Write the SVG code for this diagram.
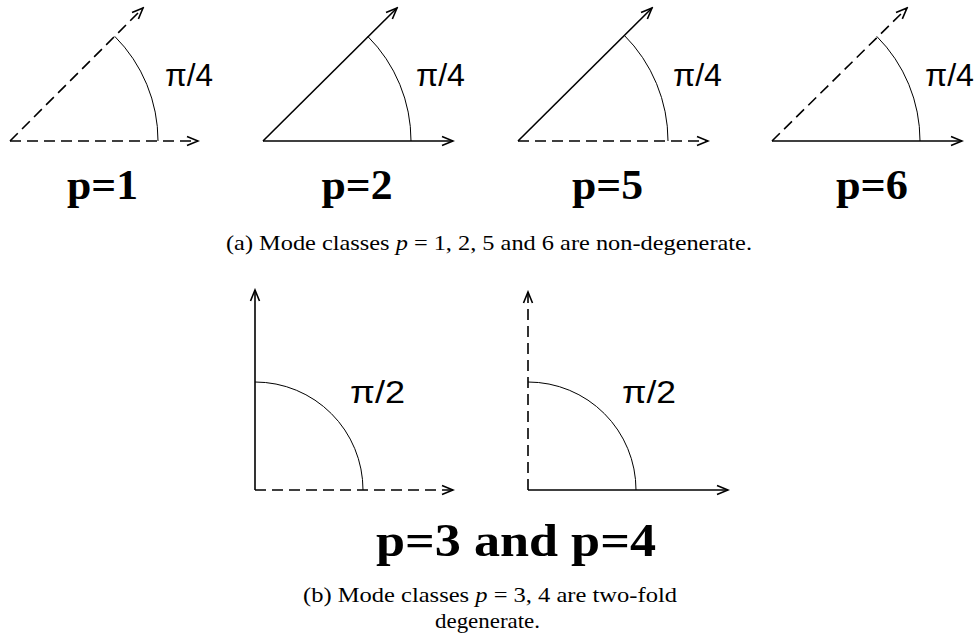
<svg xmlns="http://www.w3.org/2000/svg" width="977" height="641" viewBox="0 0 977 641">
<style>
.ax{fill:none;stroke:#000;stroke-width:1.6}
.ds{stroke-dasharray:11 6}
.arc{fill:none;stroke:#000;stroke-width:1}
.ang{font-family:"Liberation Sans",Arial,sans-serif;font-size:32px;fill:#000}
.lab{font-family:"Liberation Serif","Times New Roman",serif;font-weight:bold;font-size:42px;fill:#000;text-anchor:middle}
.ttl{font-size:46px}
.cap{font-family:"Liberation Serif","Times New Roman",serif;font-size:21px;fill:#000}
.it{font-style:italic}
</style>
<defs>
<marker id="ah" viewBox="-12 -6 14 12" refX="0" refY="0" markerWidth="14" markerHeight="12" markerUnits="userSpaceOnUse" orient="auto">
<path d="M-11,-4.5 L0,0 L-11,4.5" fill="none" stroke="#000" stroke-width="1.6" stroke-dasharray="none"/>
</marker>
</defs>
<g id="connectors">
<g transform="translate(10,141)">
<line class="ax ds" x1="0" y1="0" x2="188" y2="0" marker-end="url(#ah)"/>
<line class="ax ds" x1="0" y1="0" x2="133" y2="-133" marker-end="url(#ah)"/>
</g>
<g transform="translate(263,141)">
<line class="ax" x1="0" y1="0" x2="190" y2="0" marker-end="url(#ah)"/>
<line class="ax" x1="0" y1="0" x2="134" y2="-133" marker-end="url(#ah)"/>
</g>
<g transform="translate(518,141)">
<line class="ax ds" x1="0" y1="0" x2="190" y2="0" marker-end="url(#ah)"/>
<line class="ax" x1="0" y1="0" x2="134" y2="-133" marker-end="url(#ah)"/>
</g>
<g transform="translate(772,141)">
<line class="ax" x1="0" y1="0" x2="190" y2="0" marker-end="url(#ah)"/>
<line class="ax ds" x1="0" y1="0" x2="135" y2="-133" marker-end="url(#ah)"/>
</g>
<g transform="translate(255,490)">
<line class="ax" x1="0" y1="0" x2="0" y2="-200" marker-end="url(#ah)"/>
<line class="ax ds" x1="0" y1="0" x2="198" y2="0" marker-end="url(#ah)"/>
</g>
<g transform="translate(528,490)">
<line class="ax ds" x1="0" y1="0" x2="0" y2="-198" marker-end="url(#ah)"/>
<line class="ax" x1="0" y1="0" x2="200" y2="0" marker-end="url(#ah)"/>
</g>
</g>
<g id="p1">
<path class="arc" d="M158,141 A148,148 0 0 0 114.7,36.3"/>
<text class="ang" x="165" y="86" textLength="48" lengthAdjust="spacingAndGlyphs">π/4</text>
<text class="lab" x="102.5" y="199" textLength="71" lengthAdjust="spacingAndGlyphs">p=1</text>
</g>
<g id="p2">
<path class="arc" d="M411,141 A148,148 0 0 0 367.7,36.3"/>
<text class="ang" x="416" y="86" textLength="49" lengthAdjust="spacingAndGlyphs">π/4</text>
<text class="lab" x="357" y="199" textLength="71" lengthAdjust="spacingAndGlyphs">p=2</text>
</g>
<g id="p5">
<path class="arc" d="M668,141 A150,150 0 0 0 624,35"/>
<text class="ang" x="673" y="86" textLength="49" lengthAdjust="spacingAndGlyphs">π/4</text>
<text class="lab" x="607.5" y="199" textLength="71" lengthAdjust="spacingAndGlyphs">p=5</text>
</g>
<g id="p6">
<path class="arc" d="M920,141 A148,148 0 0 0 876.7,36.3"/>
<text class="ang" x="925" y="86" textLength="49" lengthAdjust="spacingAndGlyphs">π/4</text>
<text class="lab" x="872" y="199" textLength="72" lengthAdjust="spacingAndGlyphs">p=6</text>
</g>
<g id="captionA">
<text class="cap" x="226" y="250" textLength="526" lengthAdjust="spacingAndGlyphs">(a)  Mode classes <tspan class="it">p</tspan> = 1, 2, 5 and 6 are non-degenerate.</text>
</g>
<g id="p34left">
<path class="arc" d="M255,382 A108,108 0 0 1 363,490"/>
<text class="ang" x="350" y="403" textLength="55" lengthAdjust="spacingAndGlyphs">π/2</text>
</g>
<g id="p34right">
<path class="arc" d="M528,382 A108,108 0 0 1 636,490"/>
<text class="ang" x="622" y="403" textLength="54" lengthAdjust="spacingAndGlyphs">π/2</text>
</g>
<g id="title34">
<text class="lab ttl" x="516" y="556" textLength="280" lengthAdjust="spacingAndGlyphs">p=3 and p=4</text>
</g>
<g id="captionB">
<text class="cap" x="303" y="602" textLength="374" lengthAdjust="spacingAndGlyphs">(b)  Mode classes <tspan class="it">p</tspan> = 3, 4 are two-fold</text>
<text class="cap" x="435" y="628" textLength="105" lengthAdjust="spacingAndGlyphs">degenerate.</text>
</g>
</svg>
